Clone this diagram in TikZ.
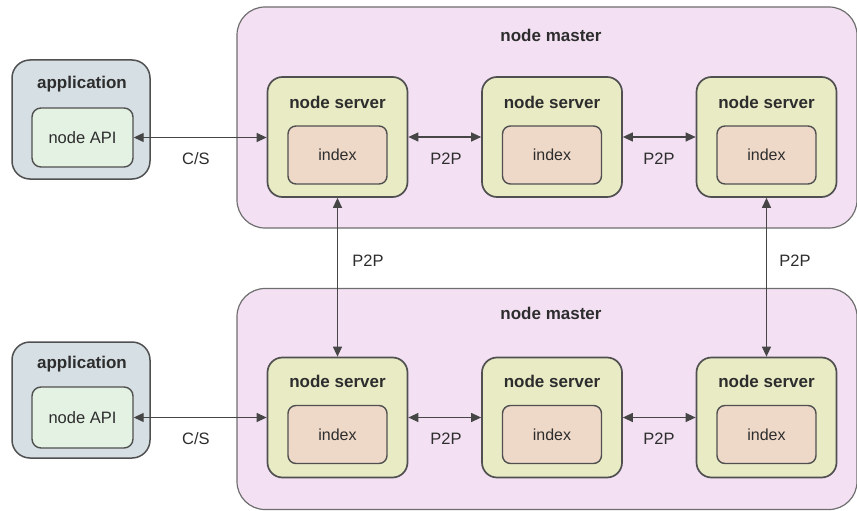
\documentclass[tikz,border=0pt]{standalone}
\usepackage{fontspec}
\setmainfont{Liberation Sans}
\usetikzlibrary{arrows.meta,calc}
\definecolor{masterfill}{RGB}{243,225,243}
\definecolor{masterline}{RGB}{110,110,110}
\definecolor{serverfill}{RGB}{233,235,197}
\definecolor{indexfill}{RGB}{238,217,200}
\definecolor{appfill}{RGB}{214,224,228}
\definecolor{apifill}{RGB}{228,242,228}
\definecolor{boxline}{RGB}{80,80,80}
\definecolor{txt}{RGB}{45,45,45}
\definecolor{arrowline}{RGB}{70,70,70}
\begin{document}
\begin{tikzpicture}[x=1pt,y=-1pt,
  master/.style={draw=masterline,fill=masterfill,line width=1.2pt,rounded corners=28pt,minimum width=620pt,inner sep=0pt},
  server/.style={draw=boxline,fill=serverfill,line width=1.7pt,rounded corners=15pt,minimum width=140pt,minimum height=120pt,inner sep=0pt},
  indexbox/.style={draw=boxline,fill=indexfill,line width=1.4pt,rounded corners=8pt,minimum width=99pt,minimum height=58pt,inner sep=0pt,font=\fontsize{16}{19}\selectfont,text=txt},
  app/.style={draw=boxline,fill=appfill,line width=1.5pt,rounded corners=18pt,minimum width=138pt,inner sep=0pt},
  api/.style={draw=boxline,fill=apifill,line width=1.4pt,rounded corners=9pt,minimum width=101pt,inner sep=0pt,font=\fontsize{16.5}{19}\selectfont,text=txt},
  title/.style={font=\bfseries\fontsize{17}{20}\selectfont,text=txt,inner sep=0pt},
  lbl/.style={font=\fontsize{16.5}{19}\selectfont,text=txt,inner sep=0pt},
  conn/.style={draw=arrowline,line width=1.2pt,{Triangle[length=10pt,width=9pt]}-{Triangle[length=10pt,width=9pt]}}
]
\useasboundingbox (0,0) rectangle (857,511);
% masters
\node[master,minimum height=221pt] (m1) at (547,117.5) {};
\node[master,minimum height=221pt] (m2) at (547,399) {};
\node[title] (m1t) at (551,35) {node master};
\node[title] (m2t) at (551,313) {node master};
% applications
\node[app,minimum height=119pt] (a1) at (81,119.5) {};
\node[app,minimum height=116pt] (a2) at (81,400) {};
\node[title] (a1t) at (82,84) {application};
\node[title] (a2t) at (82,364) {application};
\node[api,minimum height=59pt] (api1) at (82.5,137.5) {node API};
\node[api,minimum height=61pt] (api2) at (82.5,417.5) {node API};
% servers
\foreach \n/\x in {1/337.5,2/552,3/766.5}{
  \node[server] (s1\n) at (\x,137) {};
  \node[title] (s1\n t) at (\x,102) {node server};
  \node[indexbox] (i1\n) at (\x,155) {index};
  \node[server] (s2\n) at (\x,417.5) {};
  \node[title] (s2\n t) at (\x,381) {node server};
  \node[indexbox] (i2\n) at (\x,434.5) {index};
}
% connectors
\draw[conn] (api1.east) -- (api1.east -| s11.west);
\draw[conn] (api2.east) -- (api2.east -| s21.west);
\draw[conn] (s11.east) -- (s12.west);
\draw[conn] (s12.east) -- (s13.west);
\draw[conn] (s21.east) -- (s22.west);
\draw[conn] (s22.east) -- (s23.west);
\draw[conn] (s11.south) -- (s21.north);
\draw[conn] (s13.south) -- (s23.north);
% labels
\node[lbl] (cs1) at (196,159) {C/S};
\node[lbl] (cs2) at (196,439) {C/S};
\node[lbl] (p1) at (446,159) {P2P};
\node[lbl] (p2) at (659,159) {P2P};
\node[lbl] (p3) at (446,439) {P2P};
\node[lbl] (p4) at (659,439) {P2P};
\node[lbl] (p5) at (368,261) {P2P};
\node[lbl] (p6) at (795,261) {P2P};
\end{tikzpicture}
\end{document}
